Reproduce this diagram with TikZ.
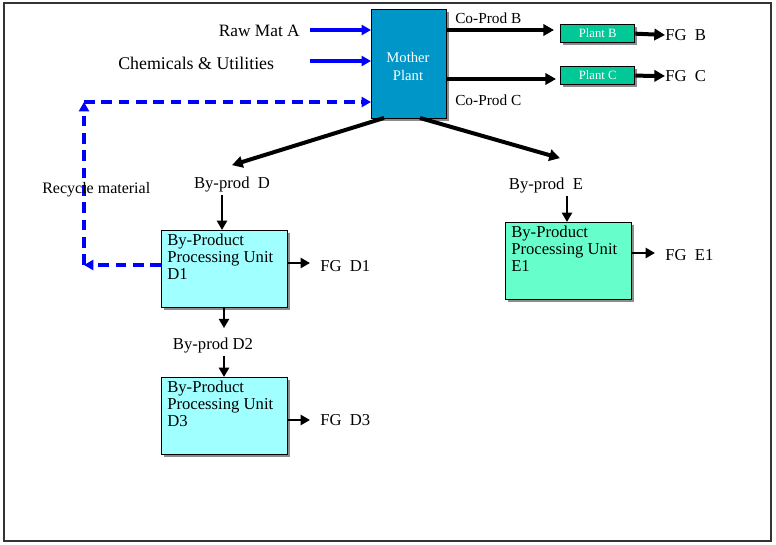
\documentclass[tikz,border=0pt]{standalone}
\usepackage{fontspec}
\setmainfont{Liberation Serif}
\usetikzlibrary{arrows.meta,calc,shadows}
\definecolor{motherblue}{RGB}{0,150,200}
\definecolor{plantgreen}{RGB}{0,200,150}
\definecolor{dcyan}{RGB}{160,255,255}
\definecolor{egreen}{RGB}{102,255,204}
\definecolor{recblue}{RGB}{0,0,255}
\begin{document}
\begin{tikzpicture}[x=0.75pt,y=-0.75pt,
  lbl/.style={inner sep=0pt,font=\fontsize{12.5}{14}\selectfont},
  slbl/.style={inner sep=0pt,font=\fontsize{11.5}{13}\selectfont},
  box/.style={draw,line width=1pt,anchor=north west,inner sep=0pt,
     drop shadow={shadow xshift=1.5pt,shadow yshift=-1.5pt,fill=black!45,opacity=1}},
  boxtext/.style={inner sep=0pt,anchor=north west,align=left,font=\fontsize{12.5}{12.5}\selectfont},
  inarrow/.style={draw=recblue,line width=2.4pt,-{Triangle[length=7pt,width=7.5pt]}},
  recarrow/.style={draw=recblue,line width=2.7pt,dash pattern=on 8pt off 5pt,-{Triangle[length=7pt,width=7.5pt]}},
  bigarrow/.style={draw=black,line width=3pt,-{Triangle[length=8pt,width=8.5pt]}},
  smallarrow/.style={draw=black,line width=1.9pt,-{Triangle[length=7pt,width=7.5pt]}}]
\useasboundingbox (0,0) rectangle (776,545);
\draw[line width=1.1pt,black!80] (4,3) rectangle (771,541);

% Mother plant
\node[box,fill=motherblue,minimum width=75*0.75pt,minimum height=109*0.75pt] (m) at (371,9) {};
\node[inner sep=0pt,align=center,text=white,font=\fontsize{11}{13.5}\selectfont] (mt) at (408,66) {Mother\\Plant};

% inputs
\node[lbl,anchor=east,font=\fontsize{13}{14}\selectfont] (rawA) at (300,31) {Raw Mat A};
\node[lbl,anchor=west,font=\fontsize{13.4}{14}\selectfont] (chem) at (118,63) {Chemicals \& Utilities};
\coordinate (rawAs) at (310,30);
\coordinate (chems) at (310,61);
\draw[inarrow] (rawAs) -- (m.west |- rawAs);
\draw[inarrow] (chems) -- (m.west |- chems);

% plants B, C
\node[box,fill=plantgreen,minimum width=74*0.75pt,minimum height=18*0.75pt] (pb) at (560,24) {};
\node[inner sep=0pt,text=white,font=\fontsize{9.5}{11}\selectfont] at (pb.center) {Plant B};
\node[box,fill=plantgreen,minimum width=74*0.75pt,minimum height=18*0.75pt] (pc) at (560,66) {};
\node[inner sep=0pt,text=white,font=\fontsize{9.5}{11}\selectfont] at (pc.center) {Plant C};
\node[slbl,anchor=west] (cpb) at (455,18) {Co-Prod B};
\node[slbl,anchor=west] (cpc) at (455,100) {Co-Prod C};
\coordinate (cpbs) at (446,30);
\coordinate (cpcs) at (446,79);
\draw[bigarrow] (cpbs) -- ($(pb.west |- cpbs)+(-6,0)$);
\draw[bigarrow] (cpcs) -- ($(pc.west |- cpcs)+(-4,0)$);
\node[lbl,anchor=west] (fgb) at (665,35) {FG\enspace B};
\node[lbl,anchor=west] (fgc) at (665,76) {FG\enspace C};
\draw[bigarrow] (pb.east) -- (fgb.west);
\draw[bigarrow] (pc.east) -- (fgc.west);

% by-products
\node[lbl] (byd) at (232,185) {By-prod\enspace D};
\node[lbl] (bye) at (546,186) {By-prod\enspace E};
\coordinate (md) at (384,118);
\coordinate (me) at (420,118);
\draw[bigarrow] (md) -- ($(byd.north)+(0,-12)$);
\draw[bigarrow] (me) -- ($(bye.north)+(14,-20)$);

% D1
\node[box,fill=dcyan,minimum width=126*0.75pt,minimum height=77*0.75pt] (d1) at (161,230) {};
\node[boxtext] at ($(d1.north west)+(6,4)$) {By-Product\\Processing Unit\\D1};
\draw[smallarrow] ($(byd.south)+(-10,2)$) -- (d1.north -| 222,0);
\node[lbl,anchor=west] (fgd1) at (320,266) {FG\enspace D1};
\coordinate (d1e) at (287,263);
\draw[smallarrow] (d1e) -- ($(fgd1.west |- d1e)+(-10,0)$);

% D2 / D3
\node[lbl] (byd2) at (213,346) {By-prod D2};
\draw[smallarrow] (d1.south -| 224,0) -- ($(byd2.north -| 224,0)+(0,-10)$);
\node[box,fill=dcyan,minimum width=126*0.75pt,minimum height=77*0.75pt] (d3) at (161,377) {};
\node[boxtext] at ($(d3.north west)+(6,4)$) {By-Product\\Processing Unit\\D3};
\draw[smallarrow] ($(byd2.south -| 224,0)+(0,2)$) -- (d3.north -| 224,0);
\node[lbl,anchor=west] (fgd3) at (320,420) {FG\enspace D3};
\coordinate (d3e) at (287,420);
\draw[smallarrow] (d3e) -- ($(fgd3.west |- d3e)+(-10,0)$);

% E1
\node[box,fill=egreen,minimum width=126*0.75pt,minimum height=77*0.75pt] (e1) at (505,222) {};
\node[boxtext] at ($(e1.north west)+(6,4)$) {By-Product\\Processing Unit\\E1};
\draw[smallarrow] ($(bye.south -| 567,0)+(0,2)$) -- (e1.north -| 567,0);
\node[lbl,anchor=west] (fge1) at (665,255) {FG\enspace E1};
\coordinate (e1e) at (631,253);
\draw[smallarrow] (e1e) -- ($(fge1.west |- e1e)+(-10,0)$);

% recycle
\coordinate (r1) at (84,265);
\coordinate (r2) at (84,102);
\coordinate (r3) at (368,102);
\draw[recarrow] (d1.west |- r1) -- (r1);
\draw[recarrow] (r1) -- (r2);
\draw[recarrow] (r2) -- (m.west |- r3);
\node[slbl,anchor=west,font=\fontsize{12}{13}\selectfont] (rec) at (42,190) {Recycle material};
\end{tikzpicture}
\end{document}
